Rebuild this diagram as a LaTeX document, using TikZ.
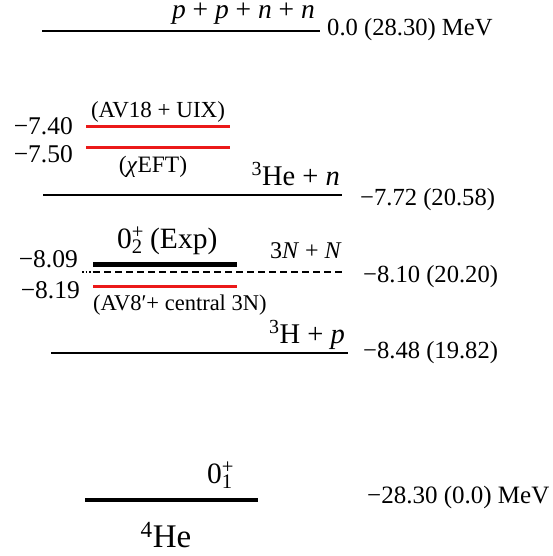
\documentclass[tikz,border=0pt]{standalone}
\usepackage{fontspec}
\setmainfont{Liberation Serif}
\newcommand{\fs}[1]{\fontsize{#1}{#1}\selectfont}
\definecolor{lvlred}{RGB}{235,25,25}
\begin{document}
\begin{tikzpicture}[x=1pt,y=-1pt,
  base/.style={inner sep=0pt},
  elbl/.style={base,font=\fs{24.6}},
  leftlbl/.style={base,font=\fs{25.5}},
  spec/.style={base,font=\fs{28.5}},
  slbl/.style={base,font=\fs{23}},
  lvl/.style={line width=2pt,black},
  red lvl/.style={line width=3pt,lvlred},
  thick lvl/.style={line width=5pt,black}]
\useasboundingbox (0,0) rectangle (552,556);
% top threshold
\coordinate (t1) at (42,31); \coordinate (t2) at (320,31);
\draw[lvl] (t1) -- (t2);
\node[base,font=\fs{27.5},anchor=base east] (ppnn) at (315,19) {\textit{p} + \textit{p} + \textit{n} + \textit{n}};
\node[elbl,anchor=base west] (e0) at (327,36) {0.0 (28.30) MeV};
% red predictions
\coordinate (r1a) at (86,127); \coordinate (r1b) at (230,127);
\draw[red lvl] (r1a) -- (r1b);
\node[slbl,anchor=base] (av18) at (158,118) {(AV18 + UIX)};
\node[leftlbl,anchor=base east] (m740) at (73,135) {−7.40};
\coordinate (r2a) at (86,148); \coordinate (r2b) at (230,148);
\draw[red lvl] (r2a) -- (r2b);
\node[leftlbl,anchor=base east] (m750) at (73,163) {−7.50};
\node[base,font=\fs{23.5},anchor=base] (eft) at (153,172) {(\textit{χ}EFT)};
% 3He + n
\coordinate (h1) at (43,195); \coordinate (h2) at (342,195);
\draw[lvl] (h1) -- (h2);
\node[spec,anchor=base east] (hen) at (340,185) {\textsuperscript{3}He + \textit{n}};
\node[elbl,anchor=base west] (e772) at (360,205) {−7.72 (20.58)};
% 0_2^+
\coordinate (x1) at (93,264.5); \coordinate (x2) at (237,264.5);
\draw[thick lvl] (x1) -- (x2);
\node[base,font=\fs{29.5},anchor=base west] (exp) at (117,248) {0\rlap{\textsuperscript{+}}\textsubscript{2} (Exp)};
\node[leftlbl,anchor=base east] (m809) at (78,267) {−8.09};
\coordinate (d0) at (82,272); \coordinate (d1) at (93,272); \coordinate (d2) at (342,272);
\draw[line width=1.5pt,dash pattern=on 1.5pt off 2pt] (d0) -- (d1);
\draw[line width=1.5pt,dash pattern=on 7pt off 4pt] (d1) -- (d2);
\node[base,font=\fs{24},anchor=base east] (nn) at (342,258) {3\textit{N} + \textit{N}};
\node[elbl,anchor=base west] (e810) at (363,282) {−8.10 (20.20)};
\coordinate (r3a) at (93,286); \coordinate (r3b) at (237,286);
\draw[red lvl] (r3a) -- (r3b);
\node[leftlbl,anchor=base east] (m819) at (80,298) {−8.19};
\node[base,font=\fs{22.5},anchor=base west] (av8) at (93,310) {(AV8′+ central 3N)};
% 3H + p
\coordinate (p1) at (51,353); \coordinate (p2) at (348,353);
\draw[lvl] (p1) -- (p2);
\node[spec,anchor=base east] (hp) at (345,343) {\textsuperscript{3}H + \textit{p}};
\node[elbl,anchor=base west] (e848) at (363,358) {−8.48 (19.82)};
% ground state
\coordinate (g1) at (85,500); \coordinate (g2) at (258,500);
\draw[line width=4pt] (g1) -- (g2);
\node[base,font=\fs{29.5},anchor=base west] (g01) at (207,483) {0\rlap{\textsuperscript{+}}\textsubscript{1}};
\node[base,font=\fs{33},anchor=base] (he4) at (166,547) {\textsuperscript{4}He};
\node[base,font=\fs{25},anchor=base west] (e2830) at (367,503) {−28.30 (0.0) MeV};
\end{tikzpicture}
\end{document}
